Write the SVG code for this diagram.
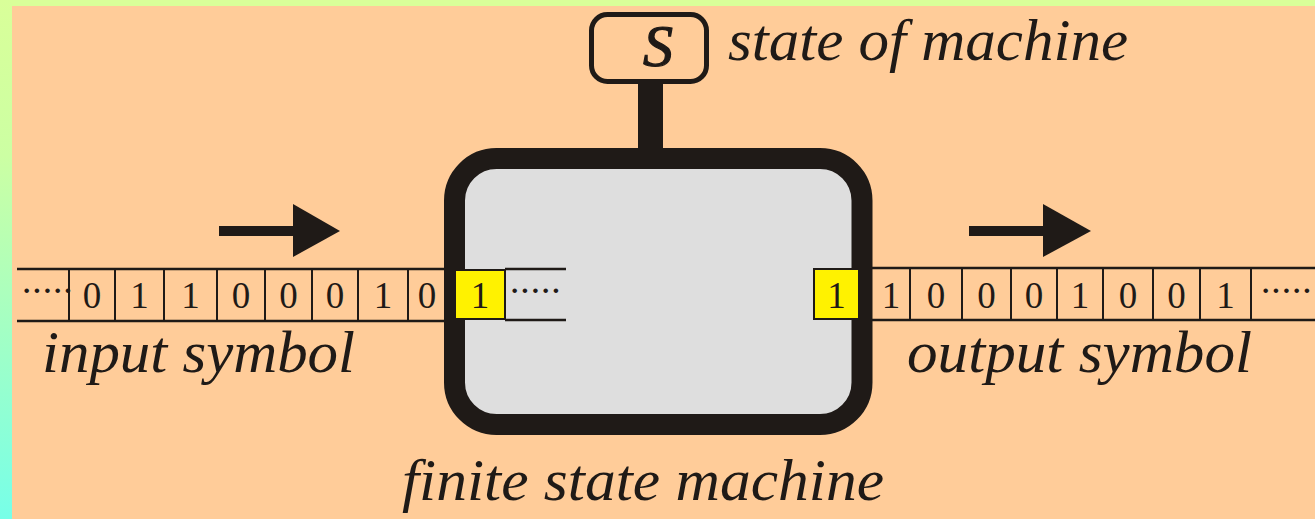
<svg xmlns="http://www.w3.org/2000/svg" width="1315" height="519" viewBox="0 0 1315 519">
<defs>
<linearGradient id="lg" x1="0" y1="0" x2="0" y2="1">
<stop offset="0" stop-color="#D9FF99"/>
<stop offset="0.3" stop-color="#CCFFA3"/>
<stop offset="1" stop-color="#77FFE8"/>
</linearGradient>
<style>
.ln{stroke:#1F1A17;stroke-width:2.5;fill:none}
.cell{stroke:#1F1A17;stroke-width:2;fill:none}
.dig{font-family:"Liberation Serif",serif;font-size:37px;fill:#1F1A17;text-anchor:middle}
.dots{font-family:"Liberation Serif",serif;font-size:28px;font-weight:bold;fill:#1F1A17;letter-spacing:1px}
.lbl{font-family:"Liberation Serif",serif;font-style:italic;font-size:60px;fill:#1F1A17}
.ink{fill:#1F1A17}
.yel{fill:#FFF200;stroke:#1F1A17;stroke-width:2}
</style>
</defs>
<rect x="0" y="0" width="1315" height="519" fill="#D9FF99"/>
<rect x="0" y="0" width="12" height="519" fill="url(#lg)"/>
<rect x="12" y="6" width="1303" height="513" fill="#FFCC99"/>

<g id="connectors">
<rect x="638" y="82" width="25" height="70" class="ink"/>
<rect x="219" y="226" width="76" height="10" class="ink"/>
<polygon points="293,204 340,231 293,257" class="ink"/>
<rect x="969" y="226" width="76" height="10" class="ink"/>
<polygon points="1043,204 1091,231 1043,257" class="ink"/>
</g>

<g id="state">
<rect x="591.5" y="14.5" width="115" height="67" rx="16" ry="16" fill="none" stroke="#1F1A17" stroke-width="5"/>
<text x="658" y="66" class="lbl" style="font-size:60px;stroke:#1F1A17;stroke-width:1.2" text-anchor="middle">S</text>
<text x="728" y="60" class="lbl" textLength="400" lengthAdjust="spacingAndGlyphs">state of machine</text>
</g>

<g id="input-tape">
<line x1="17" y1="269" x2="446" y2="269" class="ln"/>
<line x1="17" y1="321" x2="446" y2="321" class="ln"/>
<path d="M69 269V321M115 269V321M164 269V321M217 269V321M265 269V321M312 269V321M358 269V321M408 269V321" class="cell"/>
<text x="22" y="300" class="dots">·····</text>
<text x="92" y="308" class="dig">0</text>
<text x="139.5" y="308" class="dig">1</text>
<text x="190.5" y="308" class="dig">1</text>
<text x="241" y="308" class="dig">0</text>
<text x="288.5" y="308" class="dig">0</text>
<text x="335" y="308" class="dig">0</text>
<text x="383" y="308" class="dig">1</text>
<text x="427" y="308" class="dig">0</text>
<text x="42" y="372" class="lbl" textLength="313" lengthAdjust="spacingAndGlyphs">input symbol</text>
</g>

<g id="machine">
<rect x="454.5" y="158.5" width="407.5" height="266" rx="42" ry="42" fill="#DEDEDE" stroke="#1F1A17" stroke-width="21"/>
<line x1="505" y1="269" x2="566" y2="269" class="ln"/>
<line x1="505" y1="320" x2="566" y2="320" class="ln"/>
<rect x="455" y="270" width="50" height="49" class="yel"/>
<text x="480" y="308" class="dig">1</text>
<text x="510" y="300" class="dots">·····</text>
<rect x="814" y="269" width="45" height="50" class="yel"/>
<text x="836.5" y="308" class="dig">1</text>
<text x="402" y="500" class="lbl" textLength="482" lengthAdjust="spacingAndGlyphs">finite state machine</text>
</g>

<g id="output-tape">
<line x1="870" y1="268" x2="1315" y2="268" class="ln"/>
<line x1="870" y1="320" x2="1315" y2="320" class="ln"/>
<path d="M910 268V320M962 268V320M1011 268V320M1057 268V320M1103 268V320M1153 268V320M1200 268V320M1251 268V320" class="cell"/>
<text x="891" y="308" class="dig">1</text>
<text x="936" y="308" class="dig">0</text>
<text x="986.5" y="308" class="dig">0</text>
<text x="1034" y="308" class="dig">0</text>
<text x="1080" y="308" class="dig">1</text>
<text x="1128" y="308" class="dig">0</text>
<text x="1176.5" y="308" class="dig">0</text>
<text x="1225.5" y="308" class="dig">1</text>
<text x="1261" y="300" class="dots">·····</text>
<text x="907" y="372" class="lbl" textLength="345" lengthAdjust="spacingAndGlyphs">output symbol</text>
</g>
</svg>
